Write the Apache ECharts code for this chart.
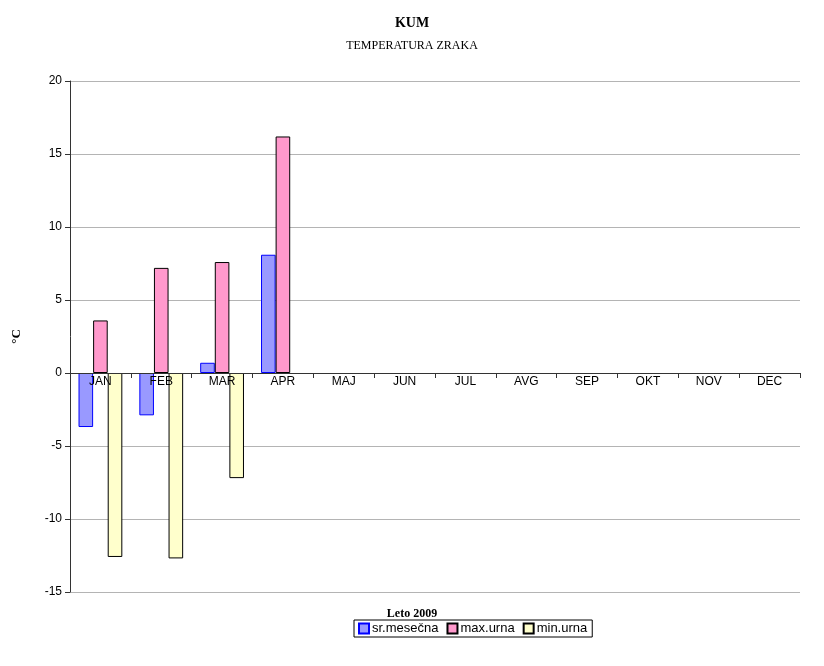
<!DOCTYPE html>
<html>
<head>
<meta charset="utf-8">
<script src="https://cdn.jsdelivr.net/npm/echarts@6/dist/echarts.min.js"></script>
<style>
  html, body { margin: 0; padding: 0; background: #ffffff; }
  #chart { width: 824px; height: 666px; }
</style>
</head>
<body>
<div id="chart"></div>
<script>
// Monthly air temperature at Kum, 2009
const months = ['JAN', 'FEB', 'MAR', 'APR', 'MAJ', 'JUN', 'JUL', 'AVG', 'SEP', 'OKT', 'NOV', 'DEC'];
const srMesecna = [-3.7, -2.9, 0.7, 8.1, null, null, null, null, null, null, null, null];
const maxUrna = [3.6, 7.2, 7.6, 16.2, null, null, null, null, null, null, null, null];
const minUrna = [-12.6, -12.7, -7.2, null, null, null, null, null, null, null, null, null];
const yTicks = { min: -15, max: 20, step: 5 };

const serif = '"Liberation Serif", "DejaVu Serif", serif';
const sans = '"Liberation Sans", Arial, sans-serif';
const gridBox = { left: 70, right: 24, top: 81, bottom: 74 };

const chart = echarts.init(document.getElementById('chart'), null, { renderer: 'canvas' });

function barSeries(name, data, fill, border) {
  return {
    name: name,
    type: 'bar',
    data: data,
    barGap: '0%',
    barCategoryGap: '28%',
    itemStyle: { color: fill, borderColor: border, borderWidth: 1 },
    emphasis: { disabled: true }
  };
}

chart.setOption({
  animation: false,
  backgroundColor: '#ffffff',
  title: [
    { text: 'KUM', left: 'center', top: 11,
      textStyle: { fontFamily: serif, fontWeight: 'bold', fontSize: 14, color: '#000' } },
    { text: 'TEMPERATURA ZRAKA', left: 'center', top: 35,
      textStyle: { fontFamily: serif, fontWeight: 'normal', fontSize: 12, color: '#000' } },
    { text: 'Leto 2009', left: 'center', top: 603,
      textStyle: { fontFamily: serif, fontWeight: 'bold', fontSize: 12, color: '#000' } }
  ],
  legend: {
    left: 354, top: 620,
    itemWidth: 10, itemHeight: 10, itemGap: 8,
    icon: 'rect',
    padding: [2, 5, 2, 4],
    borderColor: '#000', borderWidth: 1, borderRadius: 0,
    textStyle: { fontFamily: sans, fontSize: 13, color: '#000', padding: [0, 0, 0, -2] },
    data: ['sr.mesečna', 'max.urna', 'min.urna']
  },
  grid: Object.assign({ containLabel: false }, gridBox),
  xAxis: {
    type: 'category',
    data: months,
    z: 10,
    position: 'bottom',
    offset: 0,
    axisLine: { onZero: false, lineStyle: { color: '#333', width: 1 } },
    axisTick: { show: true, alignWithLabel: false, length: 5, lineStyle: { color: '#333' } },
    axisLabel: { fontFamily: sans, fontSize: 12, color: '#000', margin: 3 },
    splitLine: { show: false }
  },
  yAxis: {
    type: 'value',
    min: yTicks.min, max: yTicks.max, interval: yTicks.step,
    name: '°C',
    nameLocation: 'middle',
    nameGap: 47,
    nameRotate: 90,
    nameTextStyle: { fontFamily: serif, fontWeight: 'bold', fontSize: 13, color: '#000' },
    axisLine: { show: true, lineStyle: { color: '#333', width: 1 } },
    axisTick: { show: true, length: 5, lineStyle: { color: '#333' } },
    axisLabel: { fontFamily: sans, fontSize: 12, color: '#000', margin: 8 },
    splitLine: { show: true, lineStyle: { color: '#b4b4b4', width: 1 } }
  },
  series: [
    barSeries('sr.mesečna', srMesecna, '#9999ff', '#0000ff'),
    barSeries('max.urna', maxUrna, '#ff99cc', '#000000'),
    barSeries('min.urna', minUrna, '#ffffcc', '#000000')
  ]
});

// Lift the category axis (line, ticks and month labels) up to the 0 °C level
const zeroY = chart.convertToPixel({ yAxisIndex: 0 }, 0);
const gridBottomY = chart.getHeight() - gridBox.bottom;
chart.setOption({ xAxis: { offset: -(gridBottomY - zeroY) } });
</script>
</body>
</html>
